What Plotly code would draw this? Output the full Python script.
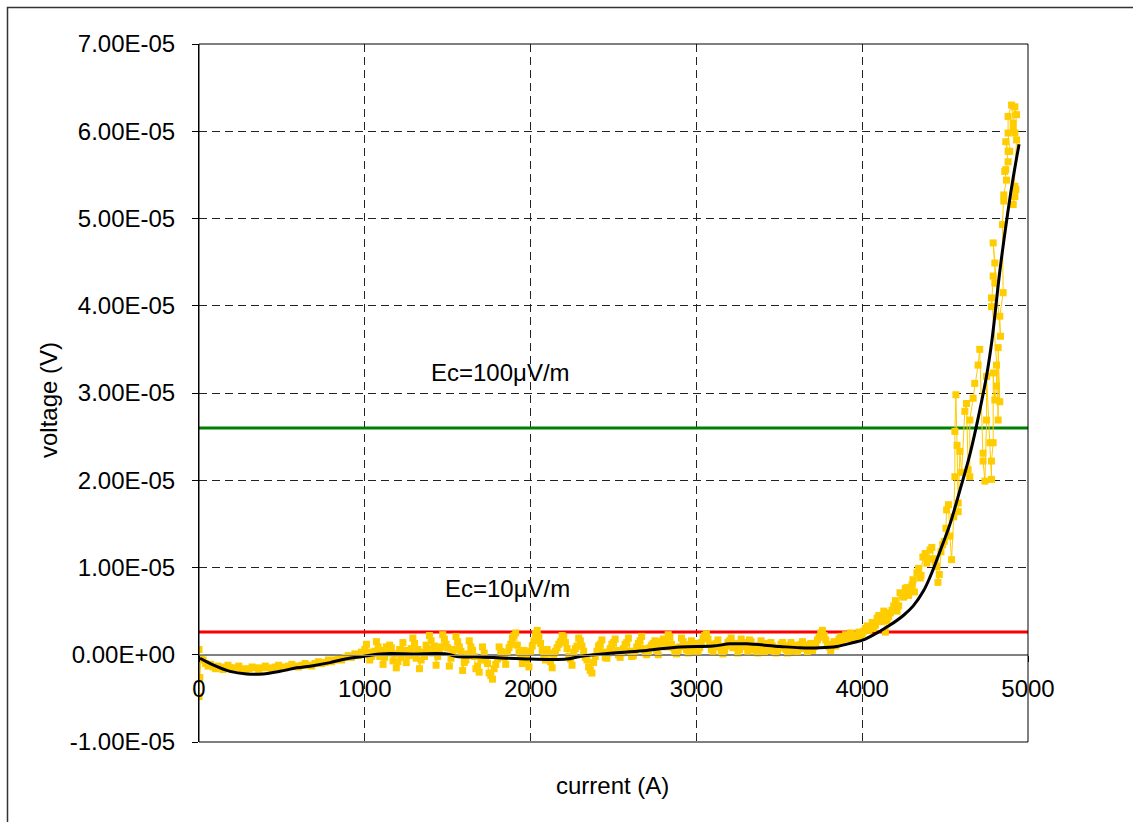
import plotly.graph_objects as go

# Measured voltage vs. transport current (current in A, voltage in microvolts)
meas_current = [
    0, 0, 5, 12, 25, 40, 55, 70, 85, 100, 115, 130, 145, 160, 175, 190, 205, 220, 240, 260,
    280, 300, 320, 340, 360, 380, 400, 420, 440, 460, 480, 500, 520, 540, 560, 580, 600, 620,
    640, 660, 680, 700, 720, 740, 760, 780, 800, 820, 840, 860, 880, 900, 920, 940, 960, 980,
    1000, 1010, 1020, 1030, 1040, 1050, 1060, 1070, 1080, 1090,
    1100, 1110, 1120, 1130, 1140, 1150, 1160, 1170, 1180, 1190,
    1200, 1210, 1220, 1230, 1240, 1250, 1260, 1270, 1280, 1290,
    1300, 1310, 1320, 1330, 1340, 1350, 1360, 1370, 1380, 1390,
    1400, 1410, 1420, 1430, 1440, 1450, 1460, 1470, 1480, 1490,
    1500, 1510, 1520, 1530, 1540, 1550, 1560, 1570, 1580, 1590,
    1600, 1610, 1620, 1630, 1640, 1650, 1660, 1670, 1680, 1690,
    1700, 1710, 1720, 1730, 1740, 1750, 1760, 1770, 1780, 1790,
    1800, 1810, 1820, 1830, 1840, 1850, 1860, 1870, 1880, 1890,
    1900, 1910, 1920, 1930, 1940, 1950, 1960, 1970, 1980, 1990,
    2000, 2010, 2020, 2030, 2040, 2050, 2060, 2070, 2080, 2090,
    2100, 2110, 2120, 2130, 2140, 2150, 2160, 2170, 2180, 2190,
    2200, 2210, 2220, 2230, 2240, 2250, 2260, 2270, 2280, 2290,
    2300, 2310, 2320, 2330, 2340, 2350, 2360, 2370, 2380, 2390,
    2400, 2410, 2420, 2430, 2440, 2450, 2460, 2470, 2480, 2490,
    2500, 2510, 2520, 2530, 2540, 2550, 2560, 2570, 2580, 2590,
    2600, 2610, 2620, 2630, 2640, 2650, 2660, 2670, 2680, 2690,
    2700, 2710, 2720, 2730, 2740, 2750, 2760, 2770, 2780, 2790,
    2800, 2810, 2820, 2830, 2840, 2850, 2860, 2870, 2880, 2890,
    2900, 2910, 2920, 2930, 2940, 2950, 2960, 2970, 2980, 2990,
    3000, 3010, 3020, 3030, 3040, 3050, 3060, 3070, 3080, 3090,
    3100, 3110, 3120, 3130, 3140, 3150, 3160, 3170, 3180, 3190,
    3200, 3210, 3220, 3230, 3240, 3250, 3260, 3270, 3280, 3290,
    3300, 3310, 3320, 3330, 3340, 3350, 3360, 3370, 3380, 3390,
    3400, 3410, 3420, 3430, 3440, 3450, 3460, 3470, 3480, 3490,
    3500, 3510, 3520, 3530, 3540, 3550, 3560, 3570, 3580, 3590,
    3600, 3610, 3620, 3630, 3640, 3650, 3660, 3670, 3680, 3690,
    3700, 3710, 3720, 3730, 3740, 3750, 3760, 3770, 3780, 3790,
    3800, 3810, 3820, 3830, 3840, 3850, 3860, 3870, 3880, 3890,
    3900, 3910, 3920, 3930, 3940, 3950, 3960, 3970, 3980, 3990,
    4000, 4010, 4020, 4030, 4040, 4050, 4060, 4070, 4080, 4090,
    4100, 4110, 4120, 4130, 4140,
    4150, 4160, 4170, 4180, 4190, 4200, 4210, 4220, 4228, 4240,
    4250, 4260, 4270, 4280, 4288, 4300, 4306, 4315, 4330, 4340,
    4350, 4355, 4366, 4380, 4390, 4400, 4409, 4420, 4430, 4440,
    4449, 4457, 4465, 4475, 4485, 4495, 4505, 4509, 4520, 4529,
    4539, 4552, 4559, 4559, 4565, 4572, 4579, 4579, 4589, 4600,
    4619, 4629, 4639, 4649, 4649, 4669, 4679, 4699, 4709, 4729,
    4729, 4740, 4750, 4750, 4770, 4780, 4780, 4790, 4790, 4800,
    4810, 4810, 4820, 4820, 4830, 4780, 4780, 4790, 4800, 4800,
    4790, 4834, 4830, 4850, 4846, 4854, 4854, 4870, 4860, 4866,
    4880, 4866, 4880, 4890, 4880, 4880, 4901, 4911, 4911, 4921,
    4931, 4921, 4931, 4911, 4921, 4921, 4927,
]
meas_uv = [
    0.6, -4.8, -2.6, -0.4, -0.6, -1.0, -1.3, -1.1, -1.4, -1.6, -1.3, -1.5, -1.7, -1.4, -1.2,
    -1.5, -1.7, -1.5, -1.3, -1.6, -1.8, -1.6, -1.4, -1.5, -1.7, -1.5, -1.3, -1.5, -1.6, -1.4,
    -1.2, -1.4, -1.5, -1.3, -1.1, -1.3, -1.4, -1.2, -1.0, -1.2, -1.3, -1.0, -0.8, -1.0, -0.9,
    -0.6, -0.8, -0.6, -0.4, -0.6, -0.3, -0.1, -0.3, 0.1, -0.1, 0.3,
    0.6, 1.2, 0.3, -0.6, -0.2, 0.1, 0.4, 1.5, 0.9, -0.2,
    0.5, -1.1, -0.3, 0.9, 0.2, 1.1, 0.8, -0.7, 0.1, -1.5,
    -0.8, 0.6, -0.3, 1.4, 0.5, -0.9, 0.1, -0.1, 0.7, 1.9,
    1.3, -0.4, 0.6, -1.6, -0.6, 0.3, -0.2, 1.1, 0.7, 2.2,
    1.6, 0.2, 1.0, -1.2, -0.2, 0.4, 0.9, 2.3, 1.8, 1.2,
    0.8, -1.3, -0.4, 0.2, 0.6, 2.1, 1.5, 0.9, 0.4, -1.8,
    -0.9, -0.6, 0.1, 1.6, 0.9, 0.5, -0.2, -1.6, -1.3, -2.0,
    -0.6, 0.9, 0.2, -0.6, -1.0, -2.1, -2.4, -2.8, -1.6, -1.1,
    -0.5, 0.9, 0.4, -0.1, -0.3, -1.1, 0.3, 0.8, 1.2, 1.9,
    2.2, 2.5, 1.1, 0.3, -0.2, -1.0, 0.5, 0.1, -0.6, -1.4,
    0.4, 1.0, 1.6, 2.4, 2.8, 2.1, 1.3, 0.5, 0.0, -0.6,
    0.6, 0.2, -0.8, -1.5, -0.1, 0.4, 0.8, 1.2, 1.5, 2.2,
    2.0, 1.4, 0.7, -0.2, -0.5, -1.2, 0.3, 0.7, 1.0, 1.9,
    1.6, 1.0, 0.4, -0.3, -0.6, -1.4, -1.8, -2.1, -0.9, -0.2,
    0.4, 1.0, 1.2, 1.7, 0.3, -0.3, -0.4, 0.2, 0.7, 1.2,
    1.4, 1.8, 0.5, 0.0, -0.3, 0.2, 0.7, 1.2, 1.4, 1.9,
    0.4, -0.2, -0.1, 0.4, 0.9, 1.3, 1.6, 2.1, 0.7, 0.2,
    0.0, 0.3, 0.8, 1.1, 1.3, 1.6, 0.5, 0.0, 1.1, 1.5,
    1.8, 1.4, 0.9, 2.3, 2.0, 1.2, 0.8, 0.3, 0.1, 0.5,
    0.9, 1.9, 1.5, 1.0, 0.6, 0.2, 1.2, 1.6, 0.4, 0.7,
    1.3, 0.4, 0.8, 1.4, 1.9, 2.2, 2.4, 1.8, 1.2, 0.6,
    0.4, 0.9, 1.3, 1.7, 0.9, 0.3, 0.1, 0.5, 1.0, 1.4,
    1.6, 1.9, 0.8, 0.9, 1.3, 0.2, 0.6, 1.8, 1.4, 1.2,
    0.9, 0.4, 1.7, 1.5, 1.0, 0.6, 0.4, 0.2, 1.1, 1.6,
    0.7, 0.3, 1.3, 1.0, 0.5, 1.4, 1.0, 0.4, 0.2, 0.5,
    0.8, 1.2, 1.4, 1.0, 0.6, 0.2, 1.0, 1.4, 0.4, 0.5,
    1.1, 0.3, 0.7, 1.2, 1.5, 1.1, 0.7, 0.3, 1.1, 1.3,
    0.5, 0.9, 1.3, 1.7, 2.0, 2.5, 2.8, 2.2, 1.7, 1.1,
    0.9, 0.5, 1.2, 1.5, 1.0, 1.3, 1.8, 2.1, 1.5, 1.9,
    2.3, 2.0, 1.8, 2.5, 2.2, 1.7, 1.9, 2.3, 2.6, 2.0,
    2.4, 2.7, 3.0, 3.3, 2.8, 3.2, 3.7, 3.0, 3.4, 4.2,
    4.5, 3.8, 4.3, 5.0, 2.6,
    3.9, 4.4, 4.8, 5.1, 5.6, 6.2, 5.0, 5.6, 7.1, 6.9,
    6.6, 7.6, 7.7, 6.8, 7.4, 8.0, 8.6, 7.2, 9.4, 9.9,
    8.8, 9.1, 11.2, 11.6, 10.5, 11.0, 12.0, 12.3, 11.0, 10.6,
    10.1, 8.3, 9.2, 11.8, 12.6, 13.0, 14.5, 16.6, 17.2, 13.6,
    10.9, 15.8, 20.4, 25.6, 29.8, 24.0, 17.4, 16.4, 23.3, 20.9,
    27.9, 28.8, 21.2, 20.4, 26.9, 29.4, 31.1, 33.2, 35.0, 23.1,
    22.2, 19.9, 26.9, 31.9, 24.3, 20.1, 22.2, 24.3, 32.3, 29.2,
    30.8, 33.2, 26.9, 35.2, 29.0, 40.9, 39.9, 43.4, 42.6, 44.9,
    47.2, 36.5, 38.8, 41.5, 49.3, 52.0, 52.7, 54.4, 55.4, 55.6,
    56.5, 58.8, 57.7, 57.7, 59.8, 61.7, 63.0, 60.9, 60.2, 62.8,
    61.9, 59.8, 59.0, 51.6, 52.5, 53.7, 53.3,
]

# Smoothed trend through the measurement
trend_current = [
    6, 84, 187, 288, 386, 489, 589, 688, 790, 891, 989, 1092, 1291, 1494, 1554, 1695, 1996,
    2218, 2298, 2497, 2700, 2901, 3100, 3203, 3303, 3504, 3625, 3745, 3846, 3946, 4007, 4107,
    4168, 4248, 4308, 4369, 4409, 4470, 4530, 4590, 4650, 4710, 4753, 4783, 4831, 4879, 4910,
    4946,
]
trend_uv = [
    -0.4, -1.15, -1.9, -2.2, -2.2, -1.9, -1.5, -1.25, -0.9, -0.45, -0.2, 0.1, 0.1, 0.1, -0.2,
    -0.25, -0.5, -0.5, -0.2, 0.2, 0.5, 0.9, 1.0, 1.25, 1.25, 0.95, 0.8, 0.8, 0.95, 1.4, 1.7,
    2.7, 3.4, 4.5, 5.6, 7.3, 8.9, 11.9, 15.0, 18.9, 23.0, 28.1, 32.3, 36.1, 44.1, 50.8, 54.6,
    58.5,
]

# Critical-voltage criteria
criteria_labels = ["Ec=10\u03bcV/m", "Ec=100\u03bcV/m"]
criteria_volts = [2.6e-6, 2.6e-5]
criteria_colors = ["#FF0000", "#008000"]
criteria_label_pos = [(1861, 7.56e-6), (1821, 3.24e-5)]

x_ticks = [0, 1000, 2000, 3000, 4000, 5000]
y_ticks = [-1e-5, 0, 1e-5, 2e-5, 3e-5, 4e-5, 5e-5, 6e-5, 7e-5]
y_tick_text = ["-1.00E-05", "0.00E+00", "1.00E-05", "2.00E-05", "3.00E-05",
               "4.00E-05", "5.00E-05", "6.00E-05", "7.00E-05"]

UV = 1e-6
FONT = "Liberation Sans, Arial, sans-serif"

fig = go.Figure()

for level, color in zip(criteria_volts, criteria_colors):
    fig.add_trace(go.Scatter(
        x=[x_ticks[0], x_ticks[-1]], y=[level, level], mode="lines",
        line=dict(color=color, width=3), hoverinfo="skip", showlegend=False,
    ))

fig.add_trace(go.Scatter(
    x=meas_current, y=[v * UV for v in meas_uv], mode="lines+markers",
    line=dict(color="#FFCC00", width=1),
    marker=dict(symbol="square", size=7, color="#FFCC00", line=dict(width=0)),
    showlegend=False,
))

fig.add_trace(go.Scatter(
    x=trend_current, y=[v * UV for v in trend_uv], mode="lines",
    line=dict(color="black", width=3, shape="spline"), showlegend=False,
))

for text, (cx, cy) in zip(criteria_labels, criteria_label_pos):
    fig.add_annotation(x=cx, y=cy, xref="x", yref="y", text=text, showarrow=False,
                       xanchor="center", yanchor="middle",
                       font=dict(family=FONT, size=24, color="black"))

fig.add_annotation(x=(612 - 199) / 829, y=(742 - 785) / 698, xref="paper", yref="paper",
                   text="current (A)", showarrow=False, xanchor="center", yanchor="middle",
                   font=dict(family=FONT, size=24, color="black"))
fig.add_annotation(x=(48 - 199) / 829, y=(742 - 400) / 698, xref="paper", yref="paper",
                   text="voltage (V)", textangle=-90, showarrow=False,
                   xanchor="center", yanchor="middle",
                   font=dict(family=FONT, size=24, color="black"))

# plot-area frame and the outer chart border
fig.add_shape(type="rect", xref="paper", yref="paper", x0=0, y0=0, x1=1, y1=1,
              line=dict(color="black", width=1))
fig.add_shape(type="rect", xref="paper", yref="paper",
              x0=(7.5 - 199) / 829, y0=-1, x1=2, y1=(742 - 7.5) / 698,
              line=dict(color="#333333", width=1.5))

fig.update_layout(
    width=1133, height=822,
    margin=dict(l=199, r=105, t=44, b=80, pad=0),
    paper_bgcolor="white", plot_bgcolor="white",
    font=dict(family=FONT, size=24, color="black"),
    xaxis=dict(
        range=[0, 5000], tickvals=x_ticks, ticktext=[str(t) for t in x_ticks],
        anchor="free", position=0.125,
        showline=True, linecolor="#808080", linewidth=1,
        ticks="outside", ticklen=6, tickcolor="black", ticklabelstandoff=6,
        showgrid=True, gridcolor="#222222", griddash="8px,5px", gridwidth=1,
        zeroline=False, tickfont=dict(size=24),
    ),
    yaxis=dict(
        range=[-1e-5, 7e-5], tickvals=y_ticks, ticktext=y_tick_text,
        showline=True, linecolor="black", linewidth=1,
        ticks="outside", ticklen=6, tickcolor="black", ticklabelstandoff=12,
        showgrid=True, gridcolor="#222222", griddash="8px,5px", gridwidth=1,
        zeroline=True, zerolinecolor="#808080", zerolinewidth=1,
        tickfont=dict(size=24),
    ),
)

fig.write_html("out.html")
